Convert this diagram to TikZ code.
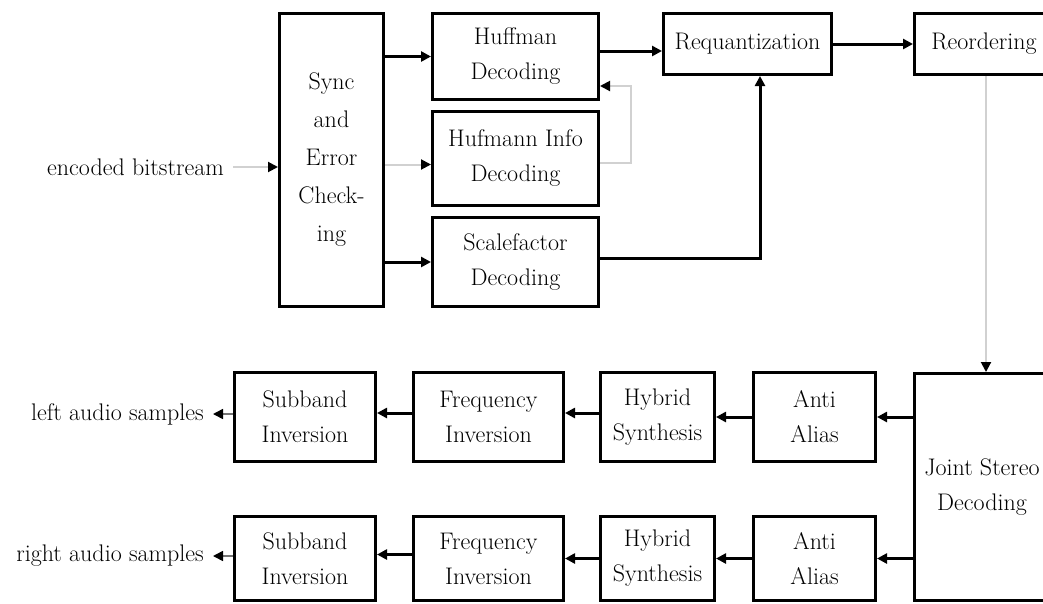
\documentclass[tikz,border=0pt]{standalone}
\usetikzlibrary{arrows.meta}
\begin{document}
\begin{tikzpicture}[x=1pt,y=-1pt,
  font=\fontsize{24}{35}\selectfont,
  block/.style={draw=black, line width=3pt, align=center, inner sep=0pt},
  label/.style={inner sep=0pt, anchor=east},
  blk/.style={line width=3pt, draw=black, -{Triangle[length=10pt,width=10pt]}},
  gry/.style={line width=2pt, draw=black!18, -{Triangle[length=10pt,width=10pt,color=black]}},
  outl/.style={line width=1.6pt, draw=black!55, -{Triangle[length=10pt,width=10pt,color=black]}}
]
% page
\useasboundingbox (0,0) rectangle (1043,603);
\fill[white] (0,0) rectangle (1043,603);
\clip (0,0) rectangle (1043,603);

% front end
\node[block, minimum width=104pt, minimum height=293pt,
      font=\fontsize{24}{38}\selectfont] (sync) at (331.5,160) {Sync\\and\\Error\\Check-\\ing};
\node[block, minimum width=166pt, minimum height=86pt] (huff) at (515.5,56.5) {Huffman\\Decoding};
\node[block, minimum width=166pt, minimum height=94pt] (hinfo) at (515.5,158.5) {Hufmann Info\\Decoding};
\node[block, minimum width=166pt, minimum height=89pt] (scale) at (515.5,262) {Scalefactor\\Decoding};
\node[block, minimum width=168pt, minimum height=61pt] (req) at (747.5,44) {Requantization};
\node[block, minimum width=139pt, minimum height=61pt] (reord) at (984,44) {Reordering};

% stereo and synthesis
\node[block, minimum width=135pt, minimum height=227pt] (joint) at (982,487) {Joint Stereo\\Decoding};
\node[block, minimum width=122pt, minimum height=89pt] (antiA) at (814.5,417) {Anti\\Alias};
\node[block, minimum width=122pt, minimum height=84pt] (antiB) at (814.5,558.5) {Anti\\Alias};
\node[block, minimum width=114pt, minimum height=89pt] (hybA) at (657.5,417) {Hybrid\\Synthesis};
\node[block, minimum width=114pt, minimum height=84pt] (hybB) at (657.5,558.5) {Hybrid\\Synthesis};
\node[block, minimum width=150pt, minimum height=89pt] (freqA) at (488.5,417) {Frequency\\Inversion};
\node[block, minimum width=150pt, minimum height=84pt] (freqB) at (488.5,558.5) {Frequency\\Inversion};
\node[block, minimum width=141pt, minimum height=89pt] (subA) at (305,417) {Subband\\Inversion};
\node[block, minimum width=141pt, minimum height=84pt] (subB) at (305,558.5) {Subband\\Inversion};

% external signals
\node[label] (enc) at (224,167) {encoded bitstream};
\node[label] (lout) at (204,414) {left audio samples};
\node[label] (rout) at (204,556) {right audio samples};

% connectors, upper chain
\draw[gry] ([xshift=9pt]enc.east) -- (enc.east -| sync.west);
\draw[blk] (sync.east |- huff.west) -- (huff.west);
\draw[gry] ([yshift=-6pt]sync.east |- hinfo.west) -- ([yshift=-6pt]hinfo.west);
\draw[blk] (sync.east |- scale.west) -- (scale.west);
\draw[blk] ([yshift=5.5pt]huff.east) -- ([yshift=5.5pt]huff.east -| req.west);
\coordinate (fb) at (631,86);
\draw[gry] ([yshift=-4.5pt]hinfo.east) -| (fb) -- (fb -| huff.east);
\draw[blk] ([yshift=4pt]scale.east) -| ([xshift=12.5pt]req.south);
\draw[blk] (req.east) -- (reord.west);
\draw[gry] ([xshift=2pt]reord.south) -- ([xshift=4pt]joint.north);

% connectors, lower chains
\draw[blk] (joint.west |- antiA.east) -- (antiA.east);
\draw[blk] (joint.west |- antiB.east) -- (antiB.east);
\draw[blk] (antiA.west) -- (hybA.east);
\draw[blk] (antiB.west) -- (hybB.east);
\draw[blk] ([yshift=4pt]hybA.west) -- ([yshift=4pt]freqA.east);
\draw[blk] (hybB.west) -- (freqB.east);
\draw[blk] ([yshift=4pt]freqA.west) -- ([yshift=4pt]subA.east);
\draw[blk] ([yshift=4pt]freqB.west) -- ([yshift=4pt]subB.east);
\draw[outl] (subA.west |- lout.east) -- ([xshift=9pt]lout.east);
\draw[outl] (subB.west |- rout.east) -- ([xshift=9pt]rout.east);
\end{tikzpicture}
\end{document}
